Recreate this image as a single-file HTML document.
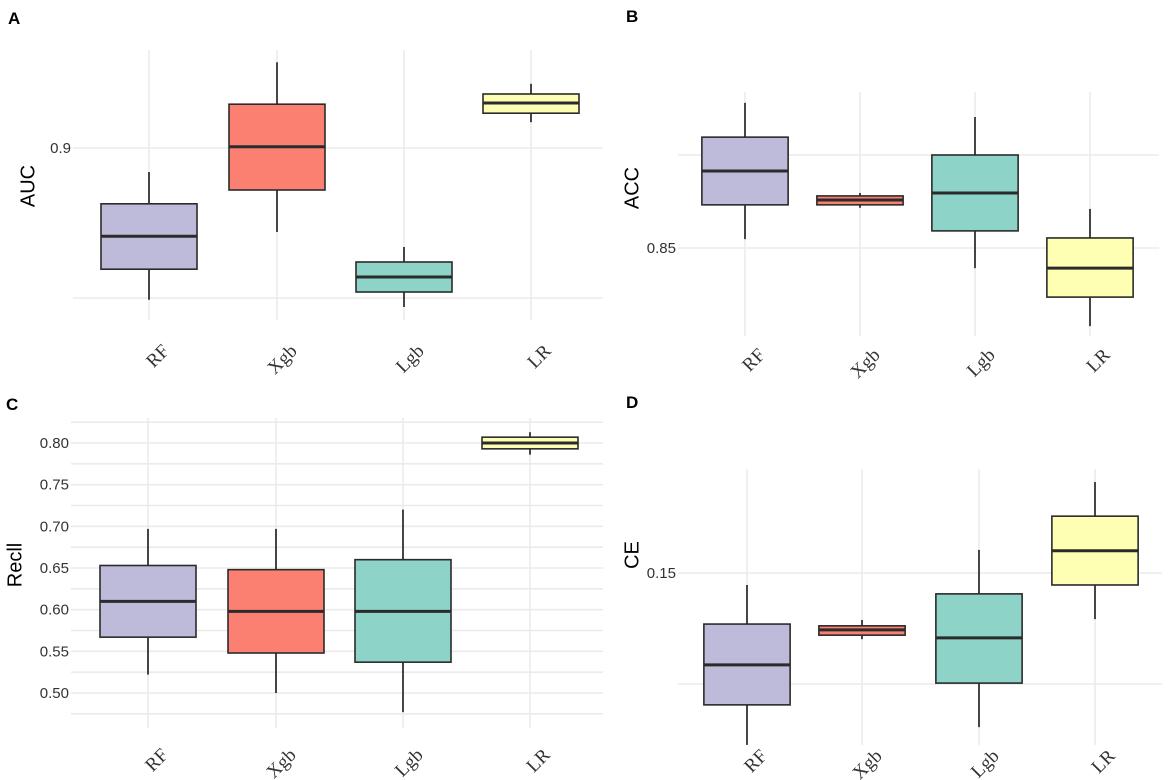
<!DOCTYPE html>
<html><head><meta charset="utf-8"><style>
html,body{margin:0;padding:0;background:#fff}
svg{display:block}
</style></head><body>
<svg id="fig" width="1169" height="780" xmlns="http://www.w3.org/2000/svg" font-family="Liberation Sans, sans-serif"></svg>
<script>
const categories = ["RF","Xgb","Lgb","LR"];
const fills = ["#bebada","#fb8072","#8dd3c7","#ffffb3"];
// Panel A: AUC
const aucLow = [0.8747,0.886,0.8735,0.9043];
const aucQ1 = [0.8798,0.893,0.876,0.9058];
const aucMed = [0.8853,0.9002,0.8785,0.9075];
const aucQ3 = [0.8907,0.9073,0.881,0.909];
const aucHigh = [0.896,0.9143,0.8835,0.9107];
const aucTicks = [0.9];
const aucTickLabels = ["0.9"];
const aucGrid = [0.875,0.9];
// Panel B: ACC
const accLow = [0.8524,0.8608,0.8446,0.829];
const accQ1 = [0.8616,0.8616,0.8546,0.8368];
const accMed = [0.8707,0.8629,0.8648,0.8446];
const accQ3 = [0.8798,0.864,0.875,0.8527];
const accHigh = [0.889,0.8648,0.8852,0.8605];
const accTicks = [0.85];
const accTickLabels = ["0.85"];
const accGrid = [0.85,0.875];
// Panel C: Recall
const recLow = [0.522,0.500,0.477,0.786];
const recQ1 = [0.567,0.548,0.537,0.793];
const recMed = [0.610,0.598,0.598,0.800];
const recQ3 = [0.653,0.648,0.660,0.807];
const recHigh = [0.697,0.697,0.720,0.813];
const recTicks = [0.50,0.55,0.60,0.65,0.70,0.75,0.80];
const recTickLabels = ["0.50","0.55","0.60","0.65","0.70","0.75","0.80"];
const recGrid = [0.475,0.5,0.525,0.55,0.575,0.6,0.625,0.65,0.675,0.7,0.725,0.75,0.775,0.8,0.825];
// Panel D: CE
const ceLow = [0.1113,0.1351,0.1153,0.1396];
const ceQ1 = [0.1203,0.1360,0.1252,0.1473];
const ceMed = [0.1293,0.1372,0.1354,0.1550];
const ceQ3 = [0.1385,0.1381,0.1453,0.1628];
const ceHigh = [0.1473,0.1394,0.1552,0.1705];
const ceTicks = [0.15];
const ceTickLabels = ["0.15"];
const ceGrid = [0.125,0.15];

const NS="http://www.w3.org/2000/svg";
const svg=document.getElementById('fig');
function mk(tag,attrs,parent){const e=document.createElementNS(NS,tag);for(const k in attrs)e.setAttribute(k,attrs[k]);(parent||svg).appendChild(e);return e;}

const panels=[
 {id:'a',letter:'A',title:'AUC',lx:8,ly:24,tx:29,ty:186,x0:73,x1:603,gx:[149,277,404,531],gTop:50,gBot:320,refV:0.9,refY:148,ppu:6000,labY:343,
  low:aucLow,q1:aucQ1,med:aucMed,q3:aucQ3,high:aucHigh,ticks:aucTicks,tickLabels:aucTickLabels,grid:aucGrid},
 {id:'b',letter:'B',title:'ACC',lx:626,ly:22,tx:633,ty:188,x0:678,x1:1159,gx:[745,860,975,1090],gTop:92,gBot:336,refV:0.85,refY:248,ppu:3720,labY:347,
  low:accLow,q1:accQ1,med:accMed,q3:accQ3,high:accHigh,ticks:accTicks,tickLabels:accTickLabels,grid:accGrid},
 {id:'c',letter:'C',title:'Recll',lx:6,ly:410,tx:16,ty:565,x0:71,x1:603,gx:[148,276,403,530],gTop:418,gBot:728,refV:0.8,refY:443,ppu:833.33,labY:747,
  low:recLow,q1:recQ1,med:recMed,q3:recQ3,high:recHigh,ticks:recTicks,tickLabels:recTickLabels,grid:recGrid},
 {id:'d',letter:'D',title:'CE',lx:626,ly:408,tx:633,ty:555,x0:678,x1:1162,gx:[747,862,979,1095],gTop:469,gBot:745,refV:0.15,refY:573,ppu:4440,labY:748,
  low:ceLow,q1:ceQ1,med:ceMed,q3:ceQ3,high:ceHigh,ticks:ceTicks,tickLabels:ceTickLabels,grid:ceGrid}
];

panels.forEach(p=>{
  const yScale=v=>p.refY+(p.refV-v)*p.ppu;
  const g=mk('g',{});
  
  
  const L=mk('text',{x:p.lx,y:p.ly,'font-size':17,'font-weight':'bold',fill:'#000'},g);
  L.textContent=p.letter;
  
  
  p.grid.forEach(v=>{
    const ln=mk('line',{x1:p.x0,x2:p.x1,y1:yScale(v),y2:yScale(v),stroke:'#ebebeb','stroke-width':1.6},g);
    
    
  });
  p.gx.forEach(x=>{
    const ln=mk('line',{x1:x,x2:x,y1:p.gTop,y2:p.gBot,stroke:'#ebebeb','stroke-width':1.6},g);
    
    
  });
  p.ticks.forEach((v,i)=>{
    const t=mk('text',{x:p.x0-2,y:yScale(v)+5,'font-size':15,'text-anchor':'end',fill:'#333'},g);
    t.textContent=p.tickLabels[i];
    
    
  });
  const yt=mk('text',{x:p.tx,y:p.ty,'font-size':20,'text-anchor':'middle',fill:'#000',transform:`rotate(-90 ${p.tx} ${p.ty})`,'dominant-baseline':'middle'},g);
  yt.textContent=p.title;
  
  
  const spacing=p.gx[1]-p.gx[0];
  const bw=spacing*0.75;
  categories.forEach((c,i)=>{
    const x=p.gx[i];
    const bg=mk('g',{},g);
    
    
    mk('line',{x1:x,x2:x,y1:yScale(p.high[i]),y2:yScale(p.low[i]),stroke:'#1a1a1a','stroke-width':1.6},bg);
    const top=yScale(p.q3[i]),bot=yScale(p.q1[i]);
    mk('rect',{x:x-bw/2,y:top,width:bw,height:bot-top,fill:fills[i],stroke:'#2b2b2b','stroke-width':1.6},bg);
    mk('line',{x1:x-bw/2,x2:x+bw/2,y1:yScale(p.med[i]),y2:yScale(p.med[i]),stroke:'#2b2b2b','stroke-width':3},bg);
    const lx=x+12,ly=p.labY;
    const t=mk('text',{x:lx,y:ly,'font-size':19,'font-family':'Liberation Serif, serif','text-anchor':'end',fill:'#333',transform:`rotate(-45 ${lx} ${ly})`,'dominant-baseline':'hanging'},g);
    t.textContent=c;
    
    
  });
});
</script>
</body></html>
